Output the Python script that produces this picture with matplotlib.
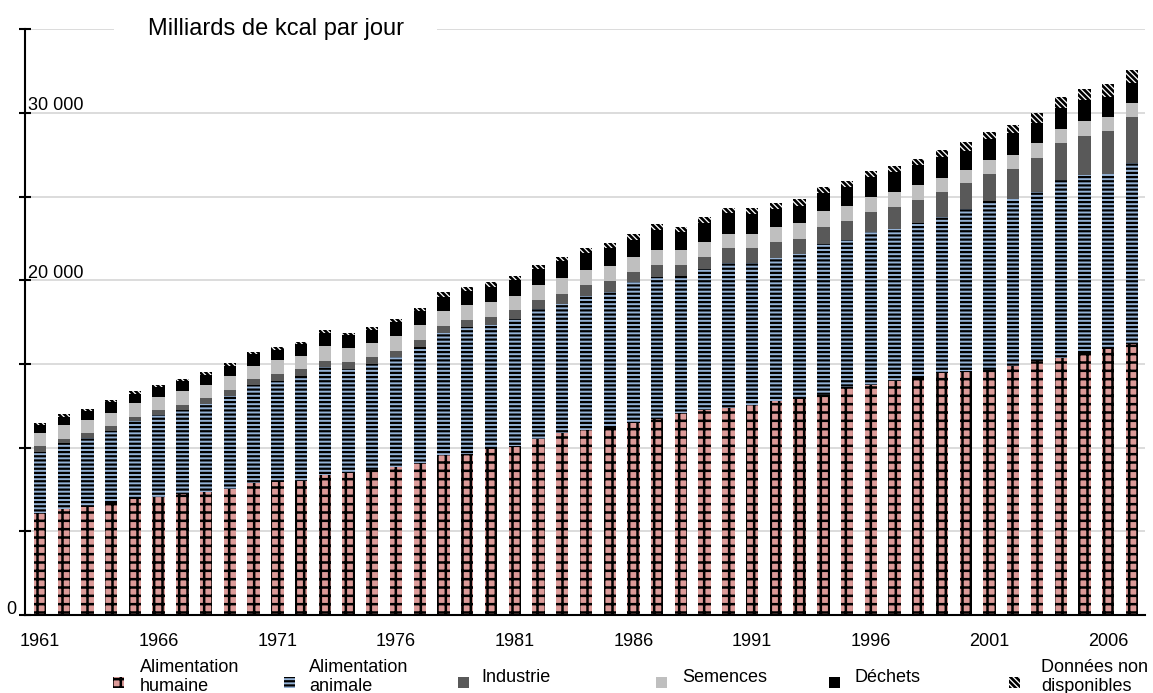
import numpy as np
import matplotlib
matplotlib.use('Agg')
import matplotlib.pyplot as plt
from matplotlib.patches import Rectangle
from matplotlib import transforms

years = list(range(1961, 2008))

# milliards de kcal par jour
human = [6080, 6320, 6440, 6680, 6910, 7070, 7210, 7370, 7550, 7910,
         7950, 8010, 8380, 8470, 8670, 8830, 9100, 9560, 9620, 9900,
         10100, 10500, 10860, 11060, 11160, 11460, 11730, 12050, 12250, 12390,
         12530, 12790, 12930, 13150, 13640, 13750, 13970, 14180, 14440, 14600,
         14640, 14880, 15180, 15380, 15640, 15880, 16180]
animal = [3680, 3940, 4120, 4320, 4660, 4860, 5040, 5240, 5560, 5840,
          6020, 6290, 6450, 6230, 6340, 6570, 6900, 7270, 7570, 7430,
          7600, 7770, 7730, 8030, 8160, 8430, 8490, 8210, 8410, 8630,
          8520, 8560, 8630, 9020, 8770, 9160, 9100, 9230, 9320, 9650,
          10080, 9960, 10120, 10620, 10660, 10460, 10820]
industry = [360, 280, 300, 300, 280, 320, 320, 360, 360, 340,
            420, 380, 360, 420, 400, 390, 450, 450, 440, 500,
            530, 560, 620, 620, 640, 620, 700, 660, 740, 910,
            880, 920, 930, 1030, 1120, 1180, 1310, 1390, 1530, 1550,
            1630, 1810, 2030, 2190, 2330, 2590, 2730]
seeds = [780, 800, 800, 800, 800, 800, 800, 800, 800, 800,
         830, 810, 860, 820, 870, 880, 860, 880, 880, 900,
         860, 900, 900, 910, 900, 880, 900, 900, 910, 840,
         840, 900, 920, 920, 910, 910, 910, 880, 840, 810,
         860, 840, 860, 860, 880, 820, 860]
waste = [440, 510, 540, 600, 560, 560, 600, 600, 620, 700,
         640, 680, 780, 780, 760, 840, 840, 860, 870, 900,
         900, 940, 1020, 1000, 1060, 1030, 1200, 1090, 1140, 1240,
         1200, 1080, 1050, 1080, 1120, 1160, 1160, 1210, 1220, 1140,
         1220, 1300, 1230, 1240, 1270, 1230, 1230]
not_available = [160, 140, 120, 160, 160, 160, 140, 180, 160, 140,
                 160, 160, 180, 160, 160, 160, 180, 260, 220, 260,
                 240, 260, 260, 300, 300, 340, 340, 260, 360, 320,
                 360, 390, 400, 390, 380, 390, 390, 360, 440, 500,
                 450, 500, 600, 690, 640, 760, 760]

labels = ['Alimentation\nhumaine', 'Alimentation\nanimale', 'Industrie',
          'Semences', 'Déchets', 'Données non\ndisponibles']
colors = ['#dc9a98', '#95b3d7', '#595959', '#bfbfbf', '#000000', '#ffffff']
hatches = ['++', '----', '', '', '', '\\' * 6]
hatch_lw = [1.8, 1.6, 1.5, 1.5, 1.5, 1.9]
y_labeled = [0, 20000, 30000]

plt.rcParams['font.family'] = ['Liberation Sans', 'DejaVu Sans']
plt.rcParams['hatch.linewidth'] = 1.5

W, H = 1153, 693
fig = plt.figure(figsize=(W / 100, H / 100), dpi=100)
ax = fig.add_axes([25 / W, 1 - 615 / H, 1120 / W, (615 - 29.3) / H])


def set_hlw(patch, lw):
    # per-artist hatch width only exists in recent matplotlib
    if hasattr(patch, 'set_hatch_linewidth'):
        patch.set_hatch_linewidth(lw)


x = np.arange(len(years))
series = [human, animal, industry, seeds, waste, not_available]
bottom = np.zeros(len(years))
for vals, col, hat, hlw in zip(series, colors, hatches, hatch_lw):
    bars = ax.bar(x, vals, 0.52, bottom=bottom, color=col, hatch=hat,
                  edgecolor='black', linewidth=0, zorder=2)
    for b in bars:
        set_hlw(b, hlw)
    bottom += np.array(vals)

ax.set_xlim(-0.63, 46.55)
ax.set_ylim(0, 35000)
ax.set_yticks(range(0, 35001, 5000))
ax.yaxis.grid(True, color='#d9d9d9', linewidth=1.3)
ax.set_axisbelow(True)
ax.tick_params(axis='y', direction='inout', length=9, width=1.5, labelleft=False)
ax.set_xticks(x[::5])
ax.set_xticklabels([str(y) for y in years[::5]])
ax.tick_params(axis='x', length=0, pad=13, labelsize=13)

for s in ['top', 'right']:
    ax.spines[s].set_visible(False)
for s in ['left', 'bottom']:
    ax.spines[s].set_linewidth(1.5)
    ax.spines[s].set_color('black')

trans = transforms.blended_transform_factory(ax.transAxes, ax.transData)
for v in y_labeled:
    txt = f"{v:,}".replace(',', ' ')
    if v == 0:
        ax.annotate(txt, xy=(0, v), xycoords=trans, xytext=(-6, 1),
                    textcoords='offset points', ha='right', va='baseline', fontsize=13)
    else:
        ax.annotate(txt, xy=(0, v), xycoords=trans, xytext=(2, 2),
                    textcoords='offset points', ha='left', va='baseline', fontsize=13)

ax.text(0.2237, 35000, 'Milliards de kcal par jour', transform=trans,
        ha='center', va='center', fontsize=17, zorder=3,
        bbox=dict(facecolor='white', edgecolor='none', boxstyle='square,pad=1.4'))

# legend drawn by hand to get the spacing of the original
marker_x = [113, 284, 458, 656, 829, 1009]
text_x = [140, 309, 481, 682, 854, 1041]
for mx, tx, lab, col, hat, hlw in zip(marker_x, text_x, labels, colors, hatches, hatch_lw):
    r = Rectangle((mx / W, 1 - (682 + 5.5) / H), 11 / W, 11 / H,
                  transform=fig.transFigure, facecolor=col, hatch=hat,
                  edgecolor='black', linewidth=0)
    set_hlw(r, hlw)
    fig.add_artist(r)
    fig.text(tx / W, 1 - 677 / H, lab, ha='left', va='center', fontsize=13,
             linespacing=1.1)

fig.savefig('out.png', dpi=100)
